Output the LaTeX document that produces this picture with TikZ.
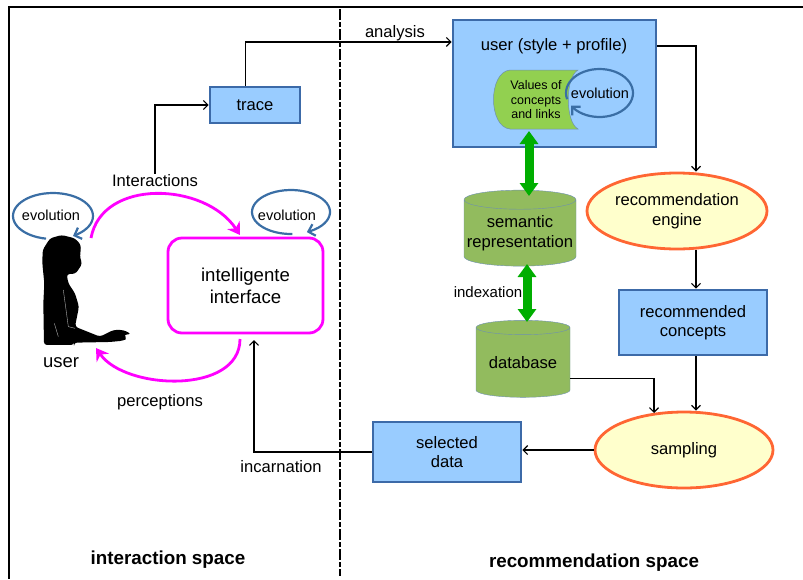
\documentclass[tikz,border=0pt]{standalone}
\usepackage{fontspec}
\setmainfont{Liberation Sans}
\usepackage{tikz}
\usetikzlibrary{shapes,arrows,arrows.meta,positioning}
\definecolor{boxblue}{HTML}{99CCFF}
\definecolor{boxedge}{HTML}{3C6AA8}
\definecolor{ovalfill}{HTML}{FFFFCC}
\definecolor{ovaledge}{HTML}{FF6633}
\definecolor{dbgreen}{HTML}{92BB5E}
\definecolor{dbedge}{HTML}{6E90B0}
\definecolor{valgreen}{HTML}{92D050}
\definecolor{linkgreen}{HTML}{00AE00}
\definecolor{loopblue}{HTML}{3A6EA5}
\definecolor{flowpink}{HTML}{FF00FF}
\tikzset{
    block/.style={
            rectangle,
            draw=boxedge,
            fill=boxblue,
            line width=2.6pt,
            align=center,
            font=\fontsize{16.6}{19.5}\selectfont,
        },
    oval/.style={
            ellipse,
            draw=ovaledge,
            fill=ovalfill,
            line width=2.8pt,
            align=center,
            inner sep=0pt,
            font=\fontsize{16.6}{19.5}\selectfont,
        },
    store/.style={
            cylinder,
            shape border rotate=90,
            draw=dbedge,
            fill=dbgreen,
            align=center,
            inner sep=0pt,
            font=\fontsize{16.6}{19.5}\selectfont,
        },
    label/.style={
            font=\fontsize{16.6}{20}\selectfont,
            inner sep=1pt,
        },
    title/.style={
            font=\fontsize{18.8}{22}\selectfont\bfseries,
            inner sep=0pt,
        },
    evo/.style={
            font=\fontsize{14.5}{17}\selectfont,
            inner sep=0pt,
        },
    connector/.style={
            -{Straight Barb[length=4.5pt,width=9pt]},
            line width=1.2pt,
        },
    loopline/.style={
            -{Straight Barb[length=6pt,width=12pt]},
            draw=loopblue,
            line width=2.2pt,
        },
    flow/.style={
            -{Stealth[length=12pt,width=15pt,inset=4pt]},
            draw=flowpink,
            line width=2.8pt,
        },
    bond/.style={
            {Triangle[length=13pt,width=18pt]}-{Triangle[length=13pt,width=18pt]},
            draw=linkgreen,
            line width=9pt,
        },
}
\begin{document}
\begin{tikzpicture}[x=1pt,y=-1pt]
  \useasboundingbox (0,0) rectangle (803,579);
  % frame and separation
  \draw [line width=2.2pt] (803,7) -- (9,7) -- (9,579);
  \draw [line width=2pt,dash pattern=on 11pt off 2pt on 5pt off 2pt] (340,9) -- (340,576);

  % interaction side
  \node [rectangle,draw=flowpink,line width=2.8pt,rounded corners=14pt,minimum width=155pt,minimum height=95pt,align=center,font=\fontsize{18.6}{22}\selectfont] (iface) at (245.5,285.5) {intelligente\\interface};
  \node [block,minimum width=90pt,minimum height=36pt] (trace) at (255,105) {trace};
  \node [label,font=\fontsize{18.5}{22}\selectfont] (user) at (61,362.5) {user};
  \node [label] (interactions) at (155,181) {Interactions};
  \node [label] (perceptions) at (160,402.5) {perceptions};
  \node [label] (incarnation) at (281,466.5) {incarnation};
  \node [evo] (evoleft) at (51,215) {evolution};
  \node [evo] (evoright) at (287,215) {evolution};
  \node [title] (intspace) at (168,559.5) {interaction space};

  % silhouette
  \begin{scope}[shift={(0,170)},x=0.3333pt,y=-0.3333pt]
    \fill [rounded corners=3pt] (132,525) -- (130,400) -- (133,340) -- (127,280) -- (128,240) -- (150,205) -- (185,195) -- (225,205) -- (243,225) -- (240,265) -- (247,280) -- (235,300) -- (225,312) -- (200,312) -- (205,340) -- (225,370) -- (237,410) -- (225,470) -- (300,500) -- (340,480) -- (370,480) -- (394,492) -- (370,495) -- (382,505) -- (370,512) -- (330,516) -- (222,518) -- (222,525) -- cycle;
    \draw [gray!60,line width=0.4pt] (190,360) -- (205,470) -- (225,475) (163,460) -- (175,500);
  \end{scope}

  % recommendation side
  \node [block,minimum width=203pt,minimum height=127pt] (profile) at (554.5,83.5) {};
  \node [font=\fontsize{16.6}{20}\selectfont,inner sep=0pt] (profiletext) at (554,46) {user (style + profile)};
  \fill [valgreen] (578,70) -- (510,70) .. controls (488,72) and (488,127) .. (510,129) -- (578,129) .. controls (565,122) and (565,77) .. (578,70) -- cycle;
  \draw [dbedge,line width=0.5pt] (578,70) -- (510,70) .. controls (488,72) and (488,127) .. (510,129) -- (578,129) .. controls (565,122) and (565,77) .. (578,70) -- cycle;
  \node [align=center,font=\fontsize{12.5}{14.5}\selectfont,inner sep=0pt] (values) at (536,100) {Values of\\concepts\\and links};
  \node [evo] (evoinner) at (600,93) {evolution};
  \node [oval,minimum width=180pt,minimum height=76pt] (engine) at (677,211) {recommendation\\engine};
  \node [block,minimum width=148pt,minimum height=65pt] (concepts) at (693,322.5) {recommended\\concepts};
  \node [oval,minimum width=178pt,minimum height=76pt] (sampling) at (684,450) {sampling};
  \node [block,minimum width=148pt,minimum height=60pt] (selected) at (447,452) {selected\hspace{4pt}\\data\hspace{4pt}};
  \node [store,aspect=0.18,minimum width=112pt,minimum height=76pt] (semantic) at (520,233) {semantic\\representation};
  \node [store,aspect=0.21,minimum width=94pt,minimum height=77pt] (database) at (523,362.5) {database};
  \node [label,font=\fontsize{15}{18}\selectfont] (indexation) at (488,292) {indexation};
  \node [label] (analysis) at (395,33) {analysis};
  \node [title] (recspace) at (594,562.5) {recommendation space};

  % links
  \path [connector] (trace.116) edge[to path={|- (\tikztotarget)}] (profile.158);
  \path [connector] (interactions.north) edge[to path={|- (\tikztotarget)}] (trace.west);
  \path [connector] (profile.20) edge[to path={-| (\tikztotarget)}] (engine.north -| 696,0);
  \path [connector] (engine.south -| 696,0) edge (concepts.north -| 696,0);
  \path [connector] (concepts.south -| 696,0) edge (sampling.north -| 696,0);
  \path [connector] (database.-19) edge[to path={-| (\tikztotarget)}] (654,413);
  \path [connector] (sampling.west) edge (selected.east |- sampling.west);
  \path [connector] (selected.west) edge[to path={-| (\tikztotarget)}] (254,340);

  % loops and flows
  \draw [loopline] plot[domain=100:420,samples=50] ({53+40*cos(\x)},{216+23*sin(\x)});
  \draw [loopline] plot[domain=88:426,samples=50] ({291+39*cos(\x)},{212+22*sin(\x)});
  \draw [loopline] plot[domain=165:508,samples=50] ({599.5+33.5*cos(\x)},{93+24*sin(\x)});
  \draw [flow] (91,238) .. controls (102,178) and (205,182) .. (240,235);
  \draw [flow] (240,339) .. controls (240,395) and (125,390) .. (96,348);
  \draw [bond] (529,131) -- (529,196);
  \draw [bond] (527,264) -- (527,322);
\end{tikzpicture}
\end{document}
